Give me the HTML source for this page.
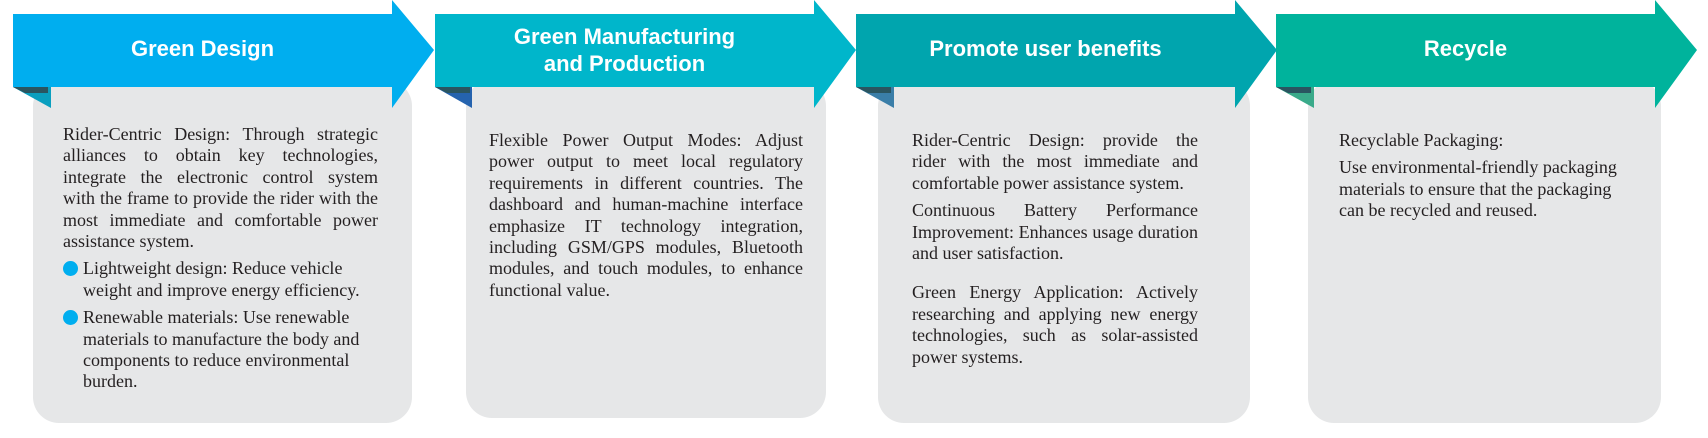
<!DOCTYPE html>
<html><head><meta charset="utf-8"><style>
body{margin:0;width:1708px;height:438px;background:#fff;position:relative;overflow:hidden}
.t{position:absolute;font-family:"Liberation Serif",serif;font-size:18px;color:#231f20;line-height:21.4px}
.t div.j{text-align:justify;text-align-last:justify;white-space:nowrap}
.h{position:absolute;font-family:"Liberation Sans",sans-serif;font-weight:bold;color:#fff;font-size:22px;text-align:center;line-height:27px}
.b{position:relative;padding-left:20px}
.b:before{content:"";position:absolute;left:0;top:3px;width:15px;height:15px;border-radius:50%;background:#00aeef}
</style></head><body>
<svg width="1708" height="438" style="position:absolute;left:0;top:0">
<g>
<rect x="33" y="80" width="379" height="343" rx="26" fill="#e6e7e8"/>
<rect x="466" y="80" width="360" height="338" rx="26" fill="#e6e7e8"/>
<rect x="878" y="80" width="372" height="343" rx="26" fill="#e6e7e8"/>
<rect x="1308" y="80" width="353" height="343" rx="26" fill="#e6e7e8"/>
</g>
<polygon points="13,87 51,87 51,108" fill="#0a9fbf"/><polygon points="13,87 48,87 48,93 25,93" fill="#2a5560"/>
<polygon points="435,87 472,87 472,108" fill="#2563ae"/><polygon points="435,87 470,87 470,93 447,93" fill="#2a5560"/>
<polygon points="856,87 894,87 894,108" fill="#3a7ea8"/><polygon points="856,87 891,87 891,93 868,93" fill="#2a5560"/>
<polygon points="1276,87 1314,87 1314,108" fill="#3aaa8a"/><polygon points="1276,87 1311,87 1311,93 1288,93" fill="#2a5560"/>
<polygon points="13,14 392,14 392,0 434,50 392,108 392,87 13,87" fill="#00aeef"/>
<polygon points="435,14 814,14 814,0 856,50 814,108 814,87 435,87" fill="#00b6cb"/>
<polygon points="856,14 1235,14 1235,0 1277,50 1235,108 1235,87 856,87" fill="#00a5ae"/>
<polygon points="1276,14 1655,14 1655,0 1697,50 1655,108 1655,87 1276,87" fill="#00b39c"/>
</svg>
<div class="h" style="left:13px;width:379px;top:35px">Green Design</div>
<div class="h" style="left:435px;width:379px;top:23px">Green Manufacturing<br>and Production</div>
<div class="h" style="left:856px;width:379px;top:35px">Promote user benefits</div>
<div class="h" style="left:1276px;width:379px;top:35px">Recycle</div>

<div class="t" style="left:63px;top:124px;width:315px">
<div class="j">Rider-Centric Design: Through strategic</div>
<div class="j">alliances to obtain key technologies,</div>
<div class="j">integrate the electronic control system</div>
<div class="j">with the frame to provide the rider with the</div>
<div class="j">most immediate and comfortable power</div>
<div>assistance system.</div>
<div class="b" style="margin-top:6px">Lightweight design: Reduce vehicle<br>weight and improve energy efficiency.</div>
<div class="b" style="margin-top:6px">Renewable materials: Use renewable<br>materials to manufacture the body and<br>components to reduce environmental<br>burden.</div>
</div>

<div class="t" style="left:489px;top:130px;width:314px">
<div class="j">Flexible Power Output Modes: Adjust</div>
<div class="j">power output to meet local regulatory</div>
<div class="j">requirements in different countries. The</div>
<div class="j">dashboard and human-machine interface</div>
<div class="j">emphasize IT technology integration,</div>
<div class="j">including GSM/GPS modules, Bluetooth</div>
<div class="j">modules, and touch modules, to enhance</div>
<div>functional value.</div>
</div>

<div class="t" style="left:912px;top:130px;width:286px">
<div class="j">Rider-Centric Design: provide the</div>
<div class="j">rider with the most immediate and</div>
<div>comfortable power assistance system.</div>
<div class="j" style="margin-top:6px">Continuous Battery Performance</div>
<div class="j">Improvement: Enhances usage duration</div>
<div>and user satisfaction.</div>
<div class="j" style="margin-top:18px">Green Energy Application: Actively</div>
<div class="j">researching and applying new energy</div>
<div class="j">technologies, such as solar-assisted</div>
<div>power systems.</div>
</div>

<div class="t" style="left:1339px;top:130px;width:290px">
<div>Recyclable Packaging:</div>
<div style="margin-top:6px">Use environmental-friendly packaging<br>materials to ensure that the packaging<br>can be recycled and reused.</div>
</div>
</body></html>
